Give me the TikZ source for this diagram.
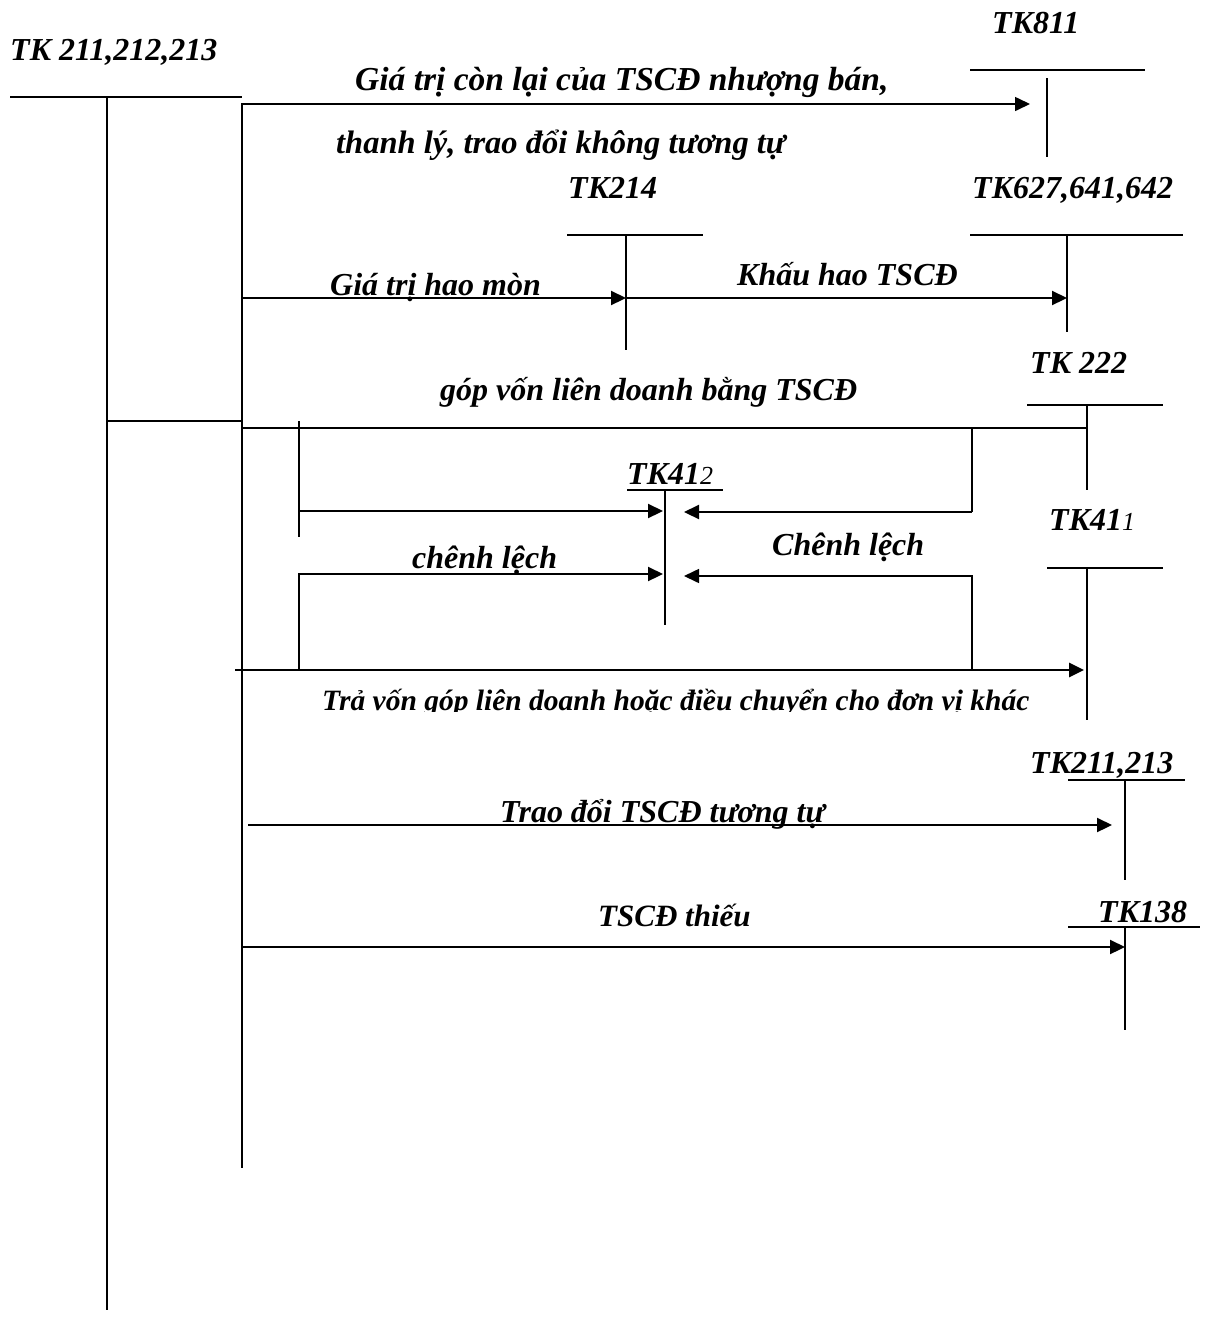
\documentclass[tikz,border=0pt]{standalone}
\usepackage{fontspec}
\setmainfont{Liberation Serif}
\usetikzlibrary{arrows.meta}
\begin{document}
\begin{tikzpicture}[x=1pt,y=-1pt,
  lbl/.style={font=\fontsize{#1}{36}\selectfont\bfseries\itshape, inner sep=0pt, anchor=base west},
  lbl/.default=32,
  tln/.style={line width=1.6pt},
  thk/.style={line width=2.8pt},
  arr/.style={line width=2.2pt,-{Triangle[length=15pt,width=14pt]}},
  arrthin/.style={line width=1.6pt,-{Triangle[length=15pt,width=14pt]}}]
\useasboundingbox (0,0) rectangle (1207,1342);
% coordinates
\coordinate (mL) at (10,97); \coordinate (mR) at (242,97);
\coordinate (mT) at (107,97); \coordinate (mB) at (107,1310);
\coordinate (vT) at (242,103); \coordinate (vB) at (242,1168);
% T accounts
\coordinate (a811L) at (970,70); \coordinate (a811R) at (1145,70);
\coordinate (a811T) at (1047,78); \coordinate (a811B) at (1047,157);
\coordinate (a214L) at (567,235); \coordinate (a214R) at (703,235);
\coordinate (a214T) at (626,235); \coordinate (a214B) at (626,350);
\coordinate (a627L) at (970,235); \coordinate (a627R) at (1183,235);
\coordinate (a627T) at (1067,235); \coordinate (a627B) at (1067,332);
\coordinate (a222L) at (1027,405); \coordinate (a222R) at (1163,405);
\coordinate (a222T) at (1087,405); \coordinate (a222B) at (1087,490);
\coordinate (a412L) at (627,490); \coordinate (a412R) at (723,490);
\coordinate (a412T) at (665,490); \coordinate (a412B) at (665,625);
\coordinate (a411L) at (1047,568); \coordinate (a411R) at (1163,568);
\coordinate (a411T) at (1087,568); \coordinate (a411B) at (1087,720);
\coordinate (a2113L) at (1068,780); \coordinate (a2113R) at (1185,780);
\coordinate (a2113T) at (1125,780); \coordinate (a2113B) at (1125,880);
\coordinate (a138L) at (1068,927); \coordinate (a138R) at (1200,927);
\coordinate (a138T) at (1125,927); \coordinate (a138B) at (1125,1030);

% main T
\draw[tln] (mL) -- (mR);
\draw[line width=2pt] (mT) -- (mB);
\draw[tln] (vT) -- (vB);
\foreach \n in {811,214,627,222,412,411,2113,138}{
  \draw[tln] (a\n L) -- (a\n R);
  \draw[tln] (a\n T) -- (a\n B);
}

% arrow 1
\coordinate (r1s) at (242,104); \coordinate (r1e) at (1030,104);
\draw[arrthin] (r1s) -- (r1e);
\draw[thk] (r1s) -- (333,104);
\draw[thk] (948,104) -- (1016,104);
% arrows 2,3
\coordinate (r2s) at (242,298); \coordinate (r2m) at (626,298); \coordinate (r2e) at (1067,298);
\draw[arr] (r2s) -- (r2m);
\draw[arr] (r2m) -- (r2e);
% gop von
\coordinate (stL) at (107,421); \coordinate (stR) at (242,421);
\draw[thk] (stL) -- (stR);
\coordinate (gvs) at (242,428); \coordinate (gve) at (1087,428);
\draw[line width=2.4pt] (gvs) -- (gve);
\coordinate (b1a) at (299,421); \coordinate (b1b) at (299,537);
\draw[line width=2pt] (b1a) -- (b1b);
\coordinate (b1s) at (299,511); \coordinate (b1e) at (663,511);
\draw[arr] (b1s) -- (b1e);
\coordinate (b1r) at (972,428); \coordinate (b1rs) at (972,512); \coordinate (b1re) at (684,512);
\draw[tln] (b1r) -- (b1rs);
\draw[arr] (b1rs) -- (b1re);
% second box
\coordinate (b2lb) at (299,670); \coordinate (b2lt) at (299,574); \coordinate (b2le) at (663,574);
\draw[arr] (b2lb) -- (b2lt) -- (b2le);
\coordinate (b2rb) at (972,670); \coordinate (b2rt) at (972,576); \coordinate (b2re) at (684,576);
\draw[arrthin] (b2rb) -- (b2rt) -- (b2re);
% bottom arrow
\coordinate (tvs) at (235,670); \coordinate (tve) at (1084,670);
\draw[line width=2.8pt,-{Triangle[length=15pt,width=14pt]}] (tvs) -- (tve);
% trao doi
\coordinate (tds) at (248,825); \coordinate (tde) at (1112,825);
\draw[arr] (tds) -- (tde);
% thieu
\coordinate (ths) at (242,947); \coordinate (the) at (1125,947);
\draw[arr] (ths) -- (the);

% labels
\node[lbl] (l1) at (10,60) {TK 211,212,213};
\node[lbl] (l811) at (992,33) {TK811};
\node[lbl=33.5] (g1) at (355,90) {Giá trị còn lại của TSCĐ nhượng bán,};
\node[lbl=32.5] (g2) at (336,153) {thanh lý, trao đổi không tương tự};
\node[lbl] (l214) at (568,198) {TK214};
\node[lbl] (l627) at (972,198) {TK627,641,642};
\node[lbl] (hm) at (330,295) {Giá trị hao mòn};
\node[lbl] (kh) at (737,285) {Khấu hao TSCĐ};
\node[lbl] (l222) at (1030,373) {TK 222};
\node[lbl] (gv) at (440,400) {góp vốn liên doanh bằng TSCĐ};
\node[lbl] (l412) at (627,484) {TK41{\mdseries\fontsize{26}{30}\selectfont 2}};
\node[lbl] (l411) at (1049,530) {TK41{\mdseries\fontsize{26}{30}\selectfont 1}};
\node[lbl] (cl2) at (772,555) {Chênh lệch};
\node[lbl] (cl1) at (412,568) {chênh lệch};
\begin{scope}
\clip (300,670) rectangle (1100,711);
\node[lbl=29.5] (tv) at (322,710) {Trả vốn góp liên doanh hoặc điều chuyển cho đơn vị khác};
\end{scope}
\node[lbl] (l2113) at (1030,773) {TK211,213};
\node[lbl] (td) at (500,822) {Trao đổi TSCĐ tương tự};
\node[lbl=31] (tt) at (598,926) {TSCĐ thiếu};
\node[lbl] (l138) at (1098,922) {TK138};
\end{tikzpicture}
\end{document}
